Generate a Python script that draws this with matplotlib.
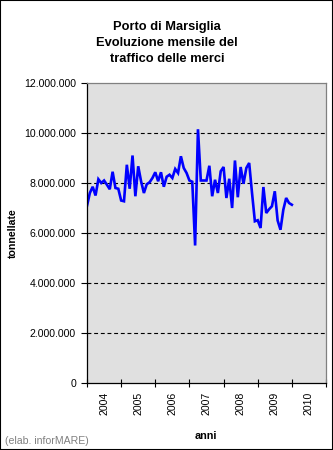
import numpy as np
import matplotlib.pyplot as plt
from matplotlib.patches import Rectangle
from matplotlib.ticker import FuncFormatter

plt.rcParams['font.family'] = ['Liberation Sans', 'DejaVu Sans']

# monthly traffic, Jan 2004 .. Jan 2010 (tonnes)
tonnes = [
    7090000, 7600000, 7850000, 7500000, 8150000, 8000000, 8100000, 7930000, 7750000, 8450000, 7800000, 7770000,
    7300000, 7270000, 8730000, 7770000, 9100000, 7470000, 8670000, 8070000, 7600000, 7950000, 8030000, 8200000,
    8430000, 8070000, 8430000, 7850000, 8250000, 8330000, 8200000, 8560000, 8400000, 9070000, 8600000, 8400000,
    8100000, 8050000, 5500000, 10150000, 8100000, 8100000, 8100000, 8690000, 7470000, 8130000, 7600000, 8470000,
    8640000, 7400000, 8170000, 7000000, 8900000, 7430000, 8640000, 7970000, 8600000, 8800000, 7600000, 6470000,
    6510000, 6200000, 7840000, 6800000, 6950000, 7070000, 7670000, 6500000, 6130000, 6930000, 7400000, 7200000,
    7130000,
]
years = ['2004', '2005', '2006', '2007', '2008', '2009', '2010']
y_ticks = [0, 2000000, 4000000, 6000000, 8000000, 10000000, 12000000]

W, H = 333, 450
fig = plt.figure(figsize=(W / 100, H / 100), dpi=100)
fig.patch.set_facecolor('white')
fig.patches.append(Rectangle((0, 0), 1, 1, transform=fig.transFigure,
                             fill=False, edgecolor='black', lw=1.5))

ax = fig.add_axes([87 / W, (H - 383) / H, (326 - 87) / W, 300 / H])
ax.set_facecolor('#e0e0e0')

months = np.arange(len(tonnes))
ax.plot(months, tonnes, color='#0000ff', lw=1.9, solid_joinstyle='miter')

ax.set_xlim(0, 12 * len(years))
ax.set_ylim(y_ticks[0], y_ticks[-1])

# y axis
ax.set_yticks(y_ticks)
ax.yaxis.set_major_formatter(FuncFormatter(lambda v, p: f"{int(v):,}".replace(',', '.')))
ax.tick_params(axis='y', direction='out', length=4, width=0.8, pad=4, labelsize=7.6)
ax.yaxis.grid(True, color='black', linestyle=(0, (3.5, 2.5)), lw=0.8)
gl = ax.get_ygridlines()
gl[0].set_visible(False)
gl[-1].set_visible(False)

# x axis: ticks at year boundaries, labels between them
ax.set_xticks(np.arange(0, 12 * len(years) + 1, 12))
ax.set_xticklabels([])
ax.set_xticks(np.arange(6, 12 * len(years), 12), minor=True)
ax.set_xticklabels(years, minor=True, rotation=90, fontsize=7.6)
ax.tick_params(axis='x', which='major', direction='inout', length=6, width=0.8)
ax.tick_params(axis='x', which='minor', length=0, pad=6.5)

for s in ['left', 'bottom']:
    ax.spines[s].set_color('black')
    ax.spines[s].set_linewidth(0.9)
for s in ['top', 'right']:
    ax.spines[s].set_color('#808080')
    ax.spines[s].set_linewidth(0.9)

fig.text(167 / W, 1 - 43 / H, "Porto di Marsiglia\nEvoluzione mensile del\ntraffico delle merci",
         ha='center', va='center', fontsize=9.3, fontweight='bold', linespacing=1.42)
fig.text(13 / W, 1 - 233 / H, "tonnellate", rotation=90, ha='center', va='center',
         fontsize=7.6, fontweight='bold')
fig.text(206 / W, 1 - 436 / H, "anni", ha='center', va='center', fontsize=7.8, fontweight='bold')
fig.text(5 / W, 1 - 441 / H, "(elab. inforMARE)", ha='left', va='center', fontsize=7.6, color='#808080')

fig.savefig('out.png', dpi=100)
